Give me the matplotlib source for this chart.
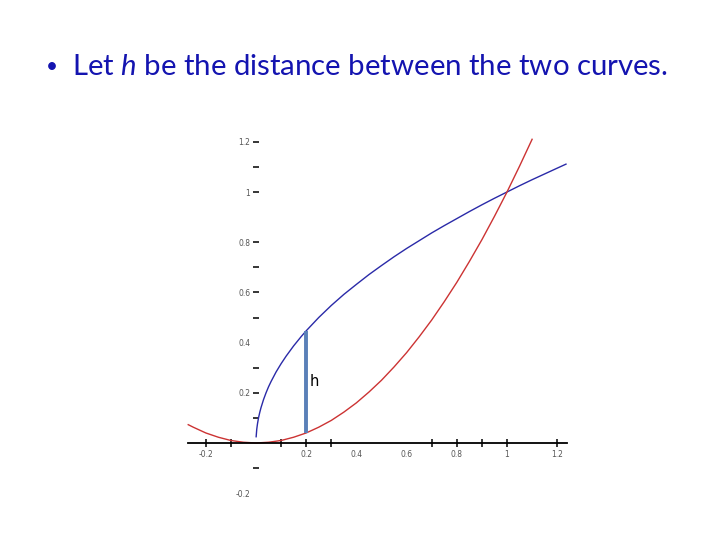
import matplotlib
matplotlib.use("Agg")
import matplotlib.pyplot as plt
from matplotlib.ticker import FixedLocator

# ---- data ----
sqrt_x = [0.0006, 0.003, 0.006, 0.01, 0.015, 0.02, 0.03, 0.04, 0.05, 0.06, 0.08, 0.10, 0.12,
          0.15, 0.18, 0.20, 0.25, 0.30, 0.35, 0.40, 0.45, 0.50, 0.55, 0.60, 0.65, 0.70, 0.75,
          0.80, 0.85, 0.90, 0.95, 1.00, 1.05, 1.10, 1.15, 1.20, 1.235]
sqrt_y = [0.025, 0.055, 0.077, 0.100, 0.122, 0.141, 0.173, 0.200, 0.224, 0.245, 0.283, 0.316, 0.346,
          0.387, 0.424, 0.447, 0.500, 0.548, 0.592, 0.632, 0.671, 0.707, 0.742, 0.775, 0.806, 0.837, 0.866,
          0.894, 0.922, 0.949, 0.975, 1.000, 1.025, 1.049, 1.072, 1.095, 1.111]

sq_x = [-0.27, -0.25, -0.20, -0.15, -0.10, -0.05, 0.00, 0.05, 0.10, 0.15, 0.20, 0.25, 0.30, 0.35,
        0.40, 0.45, 0.50, 0.55, 0.60, 0.65, 0.70, 0.75, 0.80, 0.85, 0.90, 0.95, 1.00, 1.05, 1.10]
sq_y = [0.073, 0.063, 0.040, 0.023, 0.010, 0.003, 0.000, 0.003, 0.010, 0.023, 0.040, 0.063, 0.090, 0.123,
        0.160, 0.203, 0.250, 0.303, 0.360, 0.423, 0.490, 0.563, 0.640, 0.723, 0.810, 0.903, 1.000, 1.103, 1.210]

h_x = 0.2
h_bottom = 0.04
h_top = 0.447

x_tick_labels = ["-0.2", "0.2", "0.4", "0.6", "0.8", "1", "1.2"]
x_label_pos = [-0.2, 0.2, 0.4, 0.6, 0.8, 1.0, 1.2]
x_tick_marks = [-0.2, -0.1, 0.1, 0.2, 0.3, 0.7, 0.8, 0.9, 1.0, 1.2]

y_tick_labels = ["-0.2", "0.2", "0.4", "0.6", "0.8", "1", "1.2"]
y_label_pos = [-0.2, 0.2, 0.4, 0.6, 0.8, 1.0, 1.2]
y_tick_marks = [-0.1, 0.1, 0.2, 0.3, 0.5, 0.6, 0.7, 0.8, 1.0, 1.1, 1.2]

bullet = "\u2022"
title_text = "Let $\\mathit{h}$ be the distance between the two curves."

# ---- figure ----
plt.rcParams['mathtext.fontset'] = 'custom'
plt.rcParams['mathtext.rm'] = 'Lato'
plt.rcParams['mathtext.it'] = 'Lato:italic'

W, H = 720, 540
fig = plt.figure(figsize=(7.2, 5.4), dpi=100)

unit = 251.0
x0_px, y0_px = 256.0, 443.0
xmin, xmax = -0.3, 1.3
ymin, ymax = -0.25, 1.3
left = (x0_px + xmin * unit) / W
width = (xmax - xmin) * unit / W
bottom = (H - (y0_px - ymin * unit)) / H
height = (ymax - ymin) * unit / H
ax = fig.add_axes([left, bottom, width, height])
ax.set_xlim(xmin, xmax)
ax.set_ylim(ymin, ymax)
ax.patch.set_visible(False)

for s in ['top', 'right']:
    ax.spines[s].set_visible(False)
ax.spines['bottom'].set_position(('data', 0))
ax.spines['bottom'].set_bounds(-0.27, 1.24)
ax.spines['bottom'].set_linewidth(1.3)
ax.spines['left'].set_position(('data', 0))
ax.spines['left'].set_visible(False)

# x ticks
ax.xaxis.set_major_locator(FixedLocator(x_label_pos))
ax.set_xticklabels(x_tick_labels)
ax.tick_params(axis='x', direction='inout', length=6, width=1.1, color='black',
               labelsize=5.5, labelcolor='#555555', pad=2)
for pos, t in zip(x_label_pos, ax.xaxis.get_major_ticks()):
    if pos not in x_tick_marks:
        t.tick1line.set_visible(False)
ax.xaxis.set_minor_locator(FixedLocator([p for p in x_tick_marks if p not in x_label_pos]))
ax.tick_params(axis='x', which='minor', direction='inout', length=6, width=1.1, color='black')

# y ticks
ax.yaxis.set_major_locator(FixedLocator(y_label_pos))
ax.set_yticklabels(y_tick_labels)
ax.tick_params(axis='y', direction='inout', length=5, width=1.1, color='black',
               labelsize=5.5, labelcolor='#555555', pad=1.5)
for pos, t in zip(y_label_pos, ax.yaxis.get_major_ticks()):
    if pos not in y_tick_marks:
        t.tick1line.set_visible(False)
ax.yaxis.set_minor_locator(FixedLocator([p for p in y_tick_marks if p not in y_label_pos]))
ax.tick_params(axis='y', which='minor', direction='inout', length=5, width=1.1, color='black')

# curves
ax.plot(sqrt_x, sqrt_y, color='#2a2aa8', lw=1.0, clip_on=False)
ax.plot(sq_x, sq_y, color='#cc3333', lw=1.0, clip_on=False)
ax.plot([h_x, h_x], [h_bottom, h_top], color='#5a80b8', lw=2.8, solid_capstyle='butt')
ax.text(h_x + 0.015, 0.245, "h", fontsize=10.5, color='black', family='DejaVu Sans',
        ha='left', va='center')

fig.text(46 / W, 1 - 67 / H, bullet, fontsize=15, color='#1414b0', family='Lato',
         ha='left', va='center')
fig.text(72 / W, 1 - 67 / H, title_text, fontsize=21.2, color='#1414b0', family='Lato',
         ha='left', va='center')

fig.savefig("out.png", dpi=100)
